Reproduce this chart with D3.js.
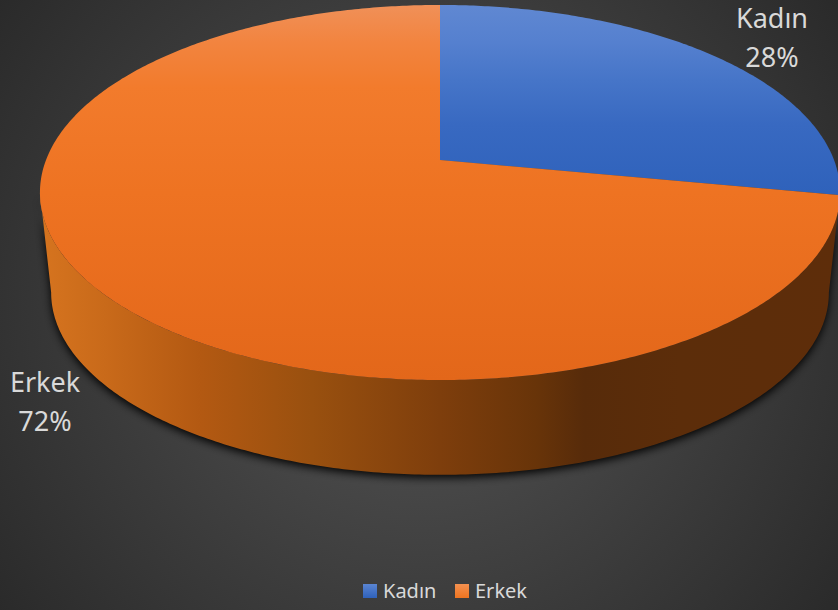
<!DOCTYPE html>
<html>
<head>
<meta charset="utf-8">
<script src="https://cdn.jsdelivr.net/npm/d3@7/dist/d3.min.js"></script>
<style>
html,body{margin:0;padding:0;background:#333}
svg{display:block}
text{font-family:"Noto Sans",sans-serif}
</style>
</head>
<body>
<svg id="chart" width="838" height="610"></svg>
<script>
const categories = ["Kadın", "Erkek"];
const shares = [28, 72];

const width = 838, height = 610;
const svg = d3.select("#chart");
const defs = svg.append("defs");

// Backdrop: soft radial glow on charcoal
const bg = defs.append("radialGradient").attr("id", "bg")
  .attr("gradientUnits", "userSpaceOnUse")
  .attr("cx", 419).attr("cy", 305).attr("r", 520);
bg.append("stop").attr("offset", "0%").attr("stop-color", "#565656");
bg.append("stop").attr("offset", "100%").attr("stop-color", "#2a2a2a");

// Disc geometry: a circle seen in perspective, apex of the pie off the ellipse centre
const apex = {x: 440, y: 160};
const disc = {rx: 394, ry: 181.9, k: 0.1733};
const depth = {dy: 101, scale: 0.972};

function project(angle, lower) {
  const u = Math.sin(angle), v = -Math.cos(angle);
  const w = 1 - disc.k * v;
  const s = lower ? depth.scale : 1;
  return [
    apex.x + s * disc.rx * u / w,
    apex.y + (lower ? depth.dy : 0) + s * disc.ry * v / w
  ];
}

const pieGen = d3.pie().sort(null).value(d => d);
const slices = pieGen(shares);
const line = d3.line();

function rimPoints(a0, a1, lower) {
  const n = Math.max(2, Math.ceil((a1 - a0) * 90));
  return d3.range(n + 1).map(i => project(a0 + (a1 - a0) * i / n, lower));
}

function addFaceGradient(id, stops) {
  const g = defs.append("linearGradient").attr("id", id)
    .attr("gradientUnits", "userSpaceOnUse")
    .attr("x1", 0).attr("x2", 0).attr("y1", 5).attr("y2", 380);
  stops.forEach(([o, c]) => g.append("stop").attr("offset", o).attr("stop-color", c));
}
addFaceGradient("face0", [[0, "#6088d2"], [0.1, "#5580cf"], [0.2, "#4675c8"], [0.32, "#3869c1"], [0.5, "#2f62bb"], [1, "#2d5fb7"]]);
addFaceGradient("face1", [[0, "#f09058"], [0.1, "#f2843f"], [0.22, "#f27b2c"], [0.5, "#ee7322"], [1, "#e3671a"]]);

// Legend swatches get the same top-lit look at their own scale
function addSwatchGradient(id, top, bottom) {
  const g = defs.append("linearGradient").attr("id", id)
    .attr("x1", 0).attr("x2", 0).attr("y1", 0).attr("y2", 1);
  g.append("stop").attr("offset", 0).attr("stop-color", top);
  g.append("stop").attr("offset", 1).attr("stop-color", bottom);
}
addSwatchGradient("swatch0", "#5a85d2", "#2f62bb");
addSwatchGradient("swatch1", "#f49150", "#ee7420");

// Wall shading runs left to right, darkening toward the right edge
const wall = defs.append("linearGradient").attr("id", "wall")
  .attr("gradientUnits", "userSpaceOnUse")
  .attr("x1", 40).attr("x2", 840).attr("y1", 0).attr("y2", 0);
[[0, "#d6741f"], [0.08, "#c96a1a"], [0.2, "#b35912"], [0.34, "#99500f"], [0.5, "#7e3e0c"], [0.62, "#683409"], [0.68, "#572b0a"], [0.8, "#5c2d0a"], [1, "#5e2d0a"]]
  .forEach(([o, c]) => wall.append("stop").attr("offset", o).attr("stop-color", c));

const blur = defs.append("filter").attr("id", "soft")
  .attr("x", "-10%").attr("y", "-10%").attr("width", "120%").attr("height", "120%");
blur.append("feGaussianBlur").attr("stdDeviation", 4);

const chartClip = defs.append("clipPath").attr("id", "frame");
chartClip.append("rect").attr("width", width).attr("height", height);

svg.append("rect").attr("width", width).attr("height", height).attr("fill", "url(#bg)");

const pie3d = svg.append("g").attr("clip-path", "url(#frame)");

// Angle at which the rim reaches its horizontal extreme; the wall spans between these
const sideAngle = Math.acos(-disc.k);
const nearStart = sideAngle, nearEnd = Math.PI * 2 - sideAngle;
const wallPath = line(rimPoints(nearStart, nearEnd, false))
  + "L" + line(rimPoints(nearStart, nearEnd, true).reverse()).slice(1) + "Z";

// Drop shadow hugging the solid
pie3d.append("path")
  .attr("d", wallPath)
  .attr("transform", "translate(0,3)")
  .attr("fill", "#000").attr("opacity", 0.95)
  .attr("filter", "url(#soft)");

pie3d.append("path").attr("d", wallPath).attr("fill", "url(#wall)");

// Top faces
pie3d.selectAll("path.face").data(slices).join("path")
  .attr("class", "face")
  .attr("fill", (d, i) => `url(#face${i})`)
  .attr("d", d => line([[apex.x, apex.y], ...rimPoints(d.startAngle, d.endAngle, false)]) + "Z");

// Data labels
const labelFill = "#d9d9d9";
const labelSpots = [{x: 772, y: 28}, {x: 45, y: 392}];
const labels = svg.append("g").selectAll("text").data(slices).join("text")
  .attr("fill", labelFill).attr("font-size", 27).attr("text-anchor", "middle");
labels.append("tspan")
  .attr("x", (d, i) => labelSpots[i].x).attr("y", (d, i) => labelSpots[i].y)
  .text((d, i) => categories[i]);
labels.append("tspan")
  .attr("x", (d, i) => labelSpots[i].x).attr("y", (d, i) => labelSpots[i].y + 39)
  .text(d => d.data + "%");

// Legend
const legendY = 592;
const legendItems = [{sx: 363, tx: 383}, {sx: 455, tx: 475}];
legendItems.forEach((p, i) => {
  svg.append("rect").attr("x", p.sx).attr("y", legendY - 8).attr("width", 14).attr("height", 14)
    .attr("fill", `url(#swatch${i})`);
  svg.append("text").attr("x", p.tx).attr("y", legendY + 6)
    .attr("fill", labelFill).attr("font-size", 20).text(categories[i]);
});
</script>
</body>
</html>
